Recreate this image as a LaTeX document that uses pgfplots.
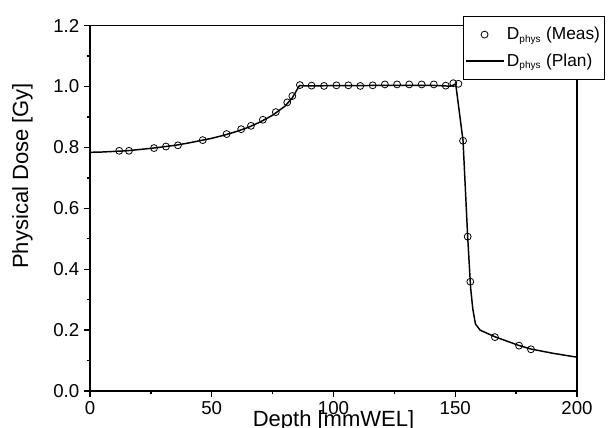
\documentclass[border=0pt]{standalone}
\usepackage{pgfplots}
\pgfplotsset{compat=1.18}
\usepackage{fontspec}
\setmainfont{Liberation Sans}
\setsansfont{Liberation Sans}

% measured depth dose
\pgfplotstableread{
x y
12.0 0.789
16.0 0.789
26.3 0.798
31.2 0.803
36.1 0.807
46.3 0.824
56.1 0.844
62.1 0.860
66.1 0.871
71.0 0.891
76.3 0.916
81.0 0.948
83.1 0.969
86.2 1.005
91.0 1.003
96.1 1.002
101.2 1.004
106.1 1.004
111.0 1.002
116.1 1.004
121.1 1.007
126.1 1.007
131.1 1.007
136.2 1.007
141.2 1.007
146.1 1.003
149.2 1.011
151.3 1.009
153.2 0.822
155.1 0.507
156.2 0.359
166.3 0.177
176.2 0.149
181.1 0.137
}\meas

% planned depth dose
\pgfplotstableread{
x y
0 0.784
5 0.785
10 0.787
15 0.789
20 0.793
25 0.797
30 0.802
35 0.807
40 0.814
45 0.822
50 0.830
55 0.840
60 0.852
65 0.866
70 0.884
75 0.906
80 0.935
83 0.962
86 1.003
90 1.002
100 1.003
110 1.003
120 1.004
130 1.004
140 1.004
146 1.002
148 1.001
150.2 1.008
153.2 0.822
155.1 0.507
156.3 0.340
157.2 0.270
158.3 0.220
160.2 0.200
166.3 0.178
176.0 0.150
181.0 0.138
190.0 0.124
200.0 0.111
}\plan

\newcommand{\sub}[1]{\textsubscript{\fontsize{7.5}{8}\selectfont #1}}

\begin{document}
\begin{tikzpicture}
\begin{axis}[
    scale only axis,
    width=365.25pt,
    height=274pt,
    xmin=0, xmax=200,
    ymin=0, ymax=1.2,
    xtick={0,50,...,200},
    minor xtick={25,75,125,175},
    ytick={0,0.2,0.4,0.6,0.8,1.0,1.2},
    minor ytick={0.1,0.3,0.5,0.7,0.9,1.1},
    tick pos=left,
    tick align=outside,
    major tick length=4.5pt,
    minor tick length=2.5pt,
    every tick/.style={black, line width=1pt},
    axis line style={line width=1.1pt},
    /pgf/number format/assume math mode=true,
    yticklabel style={/pgf/number format/.cd, fixed, fixed zerofill, precision=1},
    tick label style={font=\fontsize{14}{16}\selectfont},
    xlabel={Depth [mmWEL]},
    ylabel={Physical Dose [Gy]},
    every axis x label/.style={at={(axis description cs:0.5,-0.097)}, anchor=base,
        font=\fontsize{16.5}{18}\selectfont},
    every axis y label/.style={at={(axis description cs:-0.127,0.589)}, rotate=90, anchor=base,
        font=\fontsize{16.5}{18}\selectfont},
    legend style={
        at={(axis description cs:0.766,1.026)},
        anchor=north west,
        draw=black,
        line width=0.75pt,
        fill=white,
        font=\fontsize{13}{15}\selectfont,
        row sep=5pt,
        inner xsep=1pt,
        inner ysep=6pt,
    },
    legend cell align=left,
    legend image code/.code={
        \draw[mark repeat=2, mark phase=2, #1]
        plot coordinates {(0cm,0cm) (0.5cm,0cm) (1cm,0cm)};
    },
]
\addplot[only marks, mark=o, mark size=2.6pt, mark options={line width=0.6pt}, black]
    table {\meas};
\addlegendentry{D\sub{phys} (Meas)}

\addplot[black, line width=1.1pt, mark=none]
    table {\plan};
\addlegendentry{D\sub{phys} (Plan)}
\end{axis}
\pgfresetboundingbox
\path (-67.5pt,-27.75pt) rectangle (388.5pt,293.25pt);
\end{tikzpicture}
\end{document}
